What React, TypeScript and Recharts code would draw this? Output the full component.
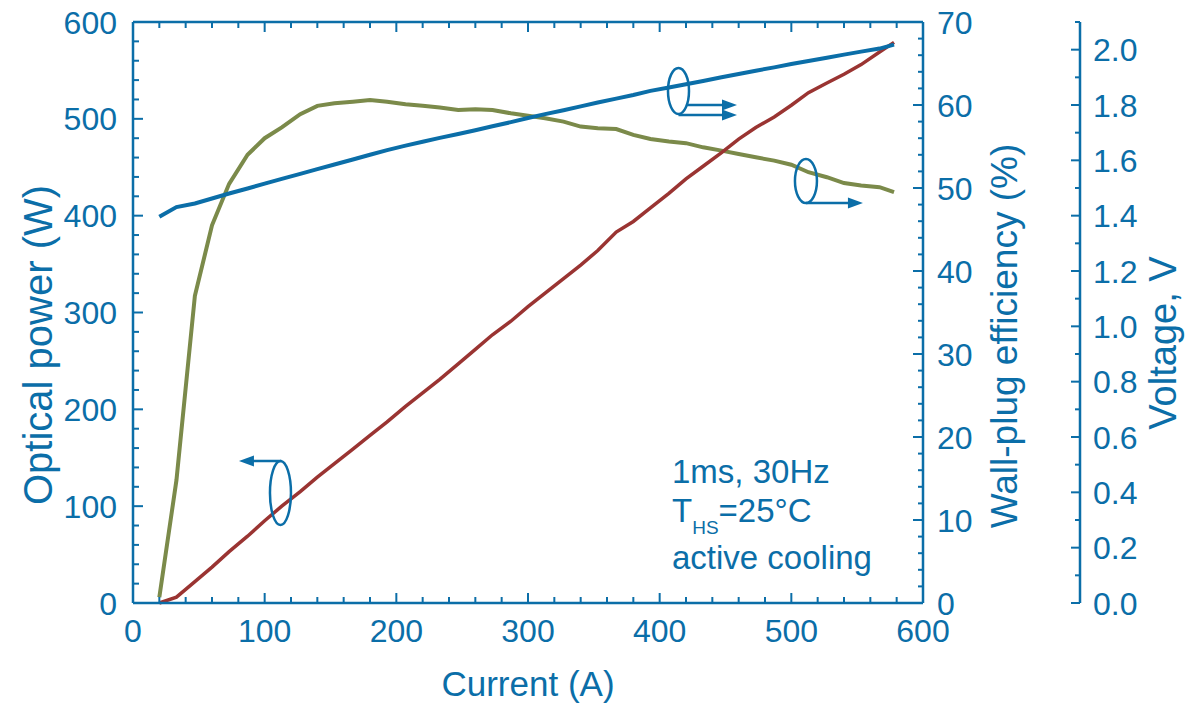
import React from 'react';
import { ComposedChart, Line, XAxis, YAxis, ReferenceDot } from 'recharts';

const currents = [20, 33, 47, 60, 73, 87, 100, 113, 127, 140, 153, 167, 180, 193, 207, 220, 233, 247, 260, 273, 287, 300, 313, 327, 340, 353, 367, 380, 393, 407, 420, 433, 447, 460, 473, 487, 500, 513, 527, 540, 553, 567, 578];
const opticalPower = [0, 6, 22, 37, 53, 69, 85, 100, 115, 130, 144, 159, 173, 187, 203, 217, 231, 247, 262, 277, 291, 306, 320, 335, 349, 364, 383, 394, 408, 423, 438, 451, 465, 479, 491, 502, 514, 527, 537, 546, 556, 569, 579];
const wallPlugEfficiency = [0.7, 14.8, 37, 45.5, 50.5, 54, 56, 57.3, 58.9, 59.9, 60.2, 60.4, 60.6, 60.4, 60.1, 59.9, 59.7, 59.4, 59.5, 59.4, 59, 58.7, 58.4, 58, 57.4, 57.2, 57.1, 56.4, 55.9, 55.6, 55.4, 54.9, 54.5, 54.1, 53.7, 53.3, 52.8, 51.9, 51.3, 50.6, 50.3, 50.1, 49.5];
const voltage = [1.396, 1.431, 1.444, 1.462, 1.48, 1.498, 1.516, 1.533, 1.551, 1.568, 1.585, 1.603, 1.62, 1.637, 1.653, 1.667, 1.681, 1.695, 1.709, 1.723, 1.738, 1.753, 1.767, 1.781, 1.795, 1.809, 1.823, 1.836, 1.851, 1.863, 1.875, 1.887, 1.9, 1.912, 1.924, 1.936, 1.948, 1.959, 1.971, 1.982, 1.993, 2.004, 2.018];

const currentTicks = [0, 20, 40, 60, 80, 100, 120, 140, 160, 180, 200, 220, 240, 260, 280, 300, 320, 340, 360, 380, 400, 420, 440, 460, 480, 500, 520, 540, 560, 580, 600];
const powerTicks = [0, 20, 40, 60, 80, 100, 120, 140, 160, 180, 200, 220, 240, 260, 280, 300, 320, 340, 360, 380, 400, 420, 440, 460, 480, 500, 520, 540, 560, 580, 600];
const wpeTicks = [0, 2, 4, 6, 8, 10, 12, 14, 16, 18, 20, 22, 24, 26, 28, 30, 32, 34, 36, 38, 40, 42, 44, 46, 48, 50, 52, 54, 56, 58, 60, 62, 64, 66, 68, 70];
const voltageTicks = [0, 0.1, 0.2, 0.3, 0.4, 0.5, 0.6, 0.7, 0.8, 0.9, 1.0, 1.1, 1.2, 1.3, 1.4, 1.5, 1.6, 1.7, 1.8, 1.9, 2.0, 2.1];

const data = currents.map((c, i) => ({
  current: c,
  power: opticalPower[i],
  wpe: wallPlugEfficiency[i],
  voltage: voltage[i],
}));

const BLUE = '#0b6ea8';
const OLIVE = '#7b8a4a';
const RED = '#9a3432';
const FONT = '"Liberation Sans", Arial, Helvetica, sans-serif';

const BottomTick = (p: any) => {
  const { x, y, payload } = p;
  const v = payload.value;
  const major = v % 100 === 0;
  return (
    <g>
      <line x1={x} x2={x} y1={y} y2={y - (major ? 10 : 6)} stroke={BLUE} strokeWidth={2} />
      {major && (
        <text x={x} y={y + 39} textAnchor="middle" fontSize={32} fill={BLUE} fontFamily={FONT}>
          {v}
        </text>
      )}
    </g>
  );
};

const TopTick = (p: any) => {
  const { x, y, payload } = p;
  const major = payload.value % 100 === 0;
  return <line x1={x} x2={x} y1={y} y2={y + (major ? 10 : 6)} stroke={BLUE} strokeWidth={2} />;
};

const LeftTick = (p: any) => {
  const { x, y, payload } = p;
  const v = payload.value;
  const major = v % 100 === 0;
  return (
    <g>
      <line x1={x} x2={x + (major ? 10 : 6)} y1={y} y2={y} stroke={BLUE} strokeWidth={2} />
      {major && (
        <text x={x - 16} y={y + 11.5} textAnchor="end" fontSize={32} fill={BLUE} fontFamily={FONT}>
          {v}
        </text>
      )}
    </g>
  );
};

const WpeTick = (p: any) => {
  const { x, y, payload } = p;
  const v = payload.value;
  const major = v % 10 === 0;
  return (
    <g>
      <line x1={x} x2={x - (major ? 10 : 5)} y1={y} y2={y} stroke={BLUE} strokeWidth={2} />
      {major && (
        <text x={x + 14} y={y + 11.5} textAnchor="start" fontSize={32} fill={BLUE} fontFamily={FONT}>
          {v}
        </text>
      )}
    </g>
  );
};

const VoltTick = (p: any) => {
  const { x, y, payload } = p;
  const v = payload.value;
  const idx = Math.round(v * 10);
  const major = idx % 2 === 0;
  const showLabel = major && idx <= 20;
  return (
    <g>
      <line x1={x} x2={x - (major ? 9 : 5)} y1={y} y2={y} stroke={BLUE} strokeWidth={2} />
      {showLabel && (
        <text x={x + 13} y={y + 11.5} textAnchor="start" fontSize={32} fill={BLUE} fontFamily={FONT}>
          {v.toFixed(1)}
        </text>
      )}
    </g>
  );
};

const arrowHead = (tipX: number, tipY: number, dir: number, len = 15, half = 5.5) =>
  `${tipX},${tipY} ${tipX - dir * len},${tipY - half} ${tipX - dir * len},${tipY + half}`;

const LeftArrowShape = (p: any) => {
  const { cx, cy } = p;
  return (
    <g>
      <ellipse cx={cx} cy={cy} rx={10.5} ry={32} fill="none" stroke={BLUE} strokeWidth={2.5} />
      <line x1={cx + 1} y1={cy - 32} x2={cx - 28} y2={cy - 32} stroke={BLUE} strokeWidth={2.5} />
      <polygon points={arrowHead(cx - 41.5, cy - 32, -1)} fill={BLUE} />
    </g>
  );
};

const DoubleRightArrowShape = (p: any) => {
  const { cx, cy } = p;
  return (
    <g>
      <ellipse cx={cx} cy={cy} rx={10.5} ry={23} fill="none" stroke={BLUE} strokeWidth={2.5} />
      <line x1={cx + 8} y1={cy + 14} x2={cx + 46} y2={cy + 14} stroke={BLUE} strokeWidth={2.5} />
      <polygon points={arrowHead(cx + 58.5, cy + 14, 1)} fill={BLUE} />
      <line x1={cx} y1={cy + 24} x2={cx + 46} y2={cy + 24} stroke={BLUE} strokeWidth={2.5} />
      <polygon points={arrowHead(cx + 58.5, cy + 24, 1)} fill={BLUE} />
    </g>
  );
};

const RightArrowShape = (p: any) => {
  const { cx, cy } = p;
  return (
    <g>
      <ellipse cx={cx} cy={cy} rx={11} ry={22} fill="none" stroke={BLUE} strokeWidth={2.5} />
      <line x1={cx} y1={cy + 22} x2={cx + 45} y2={cy + 22} stroke={BLUE} strokeWidth={2.5} />
      <polygon points={arrowHead(cx + 57, cy + 22, 1)} fill={BLUE} />
    </g>
  );
};

const axisLine = { stroke: BLUE, strokeWidth: 2.5 };

export default function App() {
  return (
    <div style={{ position: 'absolute', left: 0, top: 0, width: 1185, height: 703 }}>
      <ComposedChart
        width={1185}
        height={703}
        data={data}
        margin={{ top: 0, right: 0, bottom: 0, left: 0 }}
      >
        <XAxis
          xAxisId="x"
          dataKey="current"
          type="number"
          domain={[0, 600]}
          ticks={currentTicks}
          interval={0}
          orientation="bottom"
          height={100}
          tickSize={0}
          tickMargin={0}
          tickLine={false}
          axisLine={axisLine}
          tick={<BottomTick />}
        />
        <XAxis
          xAxisId="top"
          dataKey="current"
          type="number"
          domain={[0, 600]}
          ticks={currentTicks}
          interval={0}
          orientation="top"
          height={22}
          tickSize={0}
          tickMargin={0}
          tickLine={false}
          axisLine={axisLine}
          tick={<TopTick />}
        />
        <YAxis
          yAxisId="left"
          type="number"
          domain={[0, 600]}
          ticks={powerTicks}
          interval={0}
          orientation="left"
          width={133}
          tickSize={0}
          tickMargin={0}
          tickLine={false}
          axisLine={axisLine}
          tick={<LeftTick />}
        />
        <YAxis
          yAxisId="r1"
          type="number"
          domain={[0, 70]}
          ticks={wpeTicks}
          interval={0}
          orientation="right"
          width={157}
          tickSize={0}
          tickMargin={0}
          tickLine={false}
          axisLine={axisLine}
          tick={<WpeTick />}
        />
        <YAxis
          yAxisId="r2"
          type="number"
          domain={[0, 2.1]}
          ticks={voltageTicks}
          interval={0}
          orientation="right"
          width={105}
          tickSize={0}
          tickMargin={0}
          tickLine={false}
          axisLine={axisLine}
          tick={<VoltTick />}
        />
        <Line
          xAxisId="top"
          yAxisId="left"
          dataKey="power"
          stroke="none"
          dot={false}
          activeDot={false}
          isAnimationActive={false}
        />
        <Line
          xAxisId="x"
          yAxisId="r1"
          dataKey="wpe"
          type="linear"
          stroke={OLIVE}
          strokeWidth={4}
          dot={false}
          isAnimationActive={false}
        />
        <Line
          xAxisId="x"
          yAxisId="left"
          dataKey="power"
          type="linear"
          stroke={RED}
          strokeWidth={3.5}
          dot={false}
          isAnimationActive={false}
        />
        <Line
          xAxisId="x"
          yAxisId="r2"
          dataKey="voltage"
          type="linear"
          stroke={BLUE}
          strokeWidth={4}
          dot={false}
          isAnimationActive={false}
        />
        <ReferenceDot xAxisId="x" yAxisId="left" x={112} y={113.6} shape={LeftArrowShape} />
        <ReferenceDot xAxisId="x" yAxisId="r2" x={414.3} y={1.851} shape={DoubleRightArrowShape} />
        <ReferenceDot xAxisId="x" yAxisId="r1" x={511.1} y={50.84} shape={RightArrowShape} />
      </ComposedChart>
      <svg
        width={1185}
        height={703}
        style={{ position: 'absolute', left: 0, top: 0, pointerEvents: 'none' }}
        fontFamily={FONT}
        fill={BLUE}
      >
        <text x={528} y={696} textAnchor="middle" fontSize={35}>Current (A)</text>
        <text x={52} y={345} textAnchor="middle" fontSize={40} transform="rotate(-90 52 345)">
          Optical power (W)
        </text>
        <text x={1017} y={336} textAnchor="middle" fontSize={37} transform="rotate(-90 1017 336)">
          Wall-plug efficiency (%)
        </text>
        <text x={1176} y={343} textAnchor="middle" fontSize={38} transform="rotate(-90 1176 343)">
          Voltage, V
        </text>
        <text x={672} y={483} fontSize={33}>1ms, 30Hz</text>
        <text x={672} y={522} fontSize={33}>
          T<tspan fontSize={19} dy={12}>HS</tspan>
          <tspan dy={-12}>=25°C</tspan>
        </text>
        <text x={672} y={569} fontSize={33}>active cooling</text>
      </svg>
    </div>
  );
}
